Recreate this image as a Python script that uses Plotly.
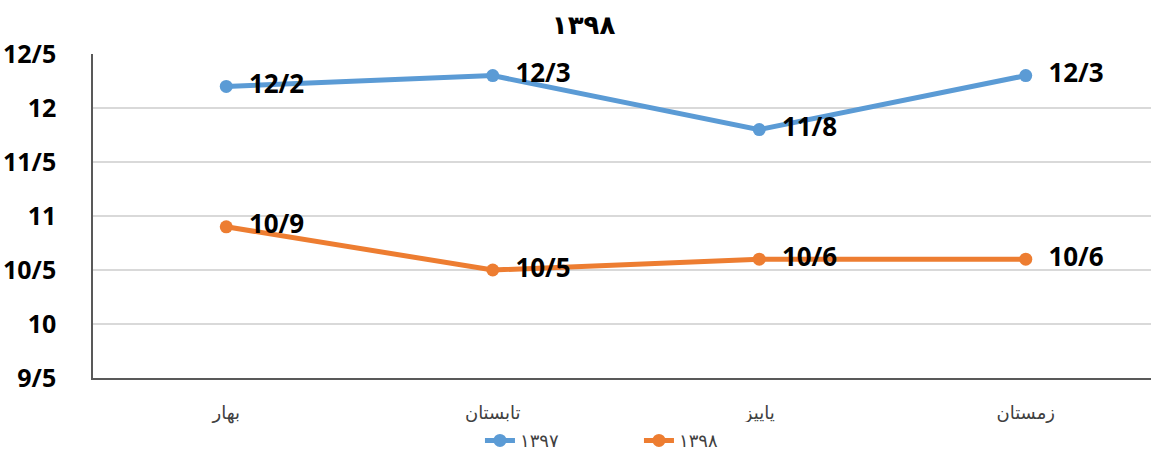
import plotly.graph_objects as go

categories = ["بهار", "تابستان", "پاییز", "زمستان"]
series_names = ["۱۳۹۷", "۱۳۹۸"]
values_1397 = [12.2, 12.3, 11.8, 12.3]
values_1398 = [10.9, 10.5, 10.6, 10.6]
label_1397 = ["12/2", "12/3", "11/8", "12/3"]
label_1398 = ["10/9", "10/5", "10/6", "10/6"]
y_tickvals = [9.5, 10, 10.5, 11, 11.5, 12, 12.5]
y_ticktext = ["9/5", "10", "10/5", "11", "11/5", "12", "12/5"]
title_text = "۱۳۹۸"

colors = ["#5B9BD5", "#ED7D31"]
num_font = "Open Sans, DejaVu Sans, sans-serif"

fig = go.Figure()
for name, vals, labs, col in [
    (series_names[0], values_1397, label_1397, colors[0]),
    (series_names[1], values_1398, label_1398, colors[1]),
]:
    fig.add_trace(go.Scatter(
        x=list(range(len(categories))), y=vals, name=name,
        mode="lines+markers+text",
        line=dict(color=col, width=5),
        marker=dict(color=col, size=13),
        text=["  " + t for t in labs], textposition="middle right",
        textfont=dict(family=num_font, size=26, color="#000000", weight="bold"),
        cliponaxis=False,
    ))

fig.update_layout(
    width=1151, height=452,
    margin=dict(l=93, r=0, t=54, b=74, autoexpand=False),
    paper_bgcolor="white", plot_bgcolor="white",
    title=dict(text="<b>" + title_text + "</b>", x=0.507, xanchor="center", y=0.944, yanchor="middle",
               font=dict(family="DejaVu Sans, sans-serif", size=26, color="#000000")),
    showlegend=True,
    legend=dict(orientation="h", xref="container", x=0.417, xanchor="left",
                yref="container", y=0.025, yanchor="middle",
                font=dict(family="DejaVu Sans, sans-serif", size=18, color="#404040"),
                entrywidth=114, entrywidthmode="pixels"),
    xaxis=dict(
        range=[-0.5, 3.47], tickvals=list(range(len(categories))), ticktext=categories,
        showgrid=False, showline=True, linecolor="#595959", linewidth=1.5,
        ticks="", ticklabelstandoff=18, automargin=False,
        tickfont=dict(family="DejaVu Sans, sans-serif", size=18, color="#404040"),
        zeroline=False,
    ),
    yaxis=dict(
        range=[9.5, 12.5], tickvals=y_tickvals, ticktext=y_ticktext,
        showgrid=True, gridcolor="#D9D9D9", gridwidth=1.5,
        showline=True, linecolor="#595959", linewidth=1.5,
        ticks="", ticklabelstandoff=30, automargin=False,
        tickfont=dict(family=num_font, size=25, color="#000000", weight="bold"),
        zeroline=False,
    ),
)

fig.write_html("out.html", config={"displayModeBar": False},
               post_script="document.body.style.margin='0';")
